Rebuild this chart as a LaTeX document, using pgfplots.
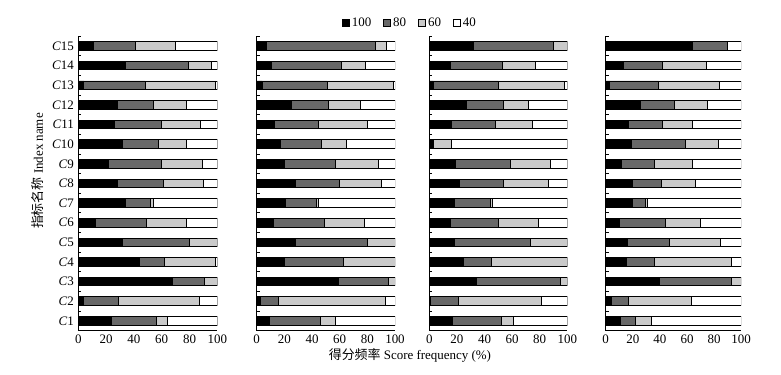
\documentclass[border=0pt]{standalone}
\usepackage{pgfplots}
\pgfplotsset{compat=1.18}
\usepackage{pgfplotstable}
\usepackage{fontspec}
\setmainfont{Liberation Serif}
\newfontfamily\cjk{Noto Sans CJK SC}
\definecolor{dgray}{HTML}{686868}
\definecolor{lgray}{HTML}{CACACA}

% columns: idx, s100, s80, s60, s40
\pgfplotstableread{
idx a b c d
1 24 32 8 36
2 4 25 58 13
3 68 23 9 0
4 44 18 37 1
5 32 48 20 0
6 12 37 29 22
7 34 18 2 46
8 28 33 29 10
9 22 38 29 11
10 32 26 20 22
11 26 34 28 12
12 28 26 24 22
13 4 44 51 1
14 34 45 17 4
15 11 30 29 30
}\tA
\pgfplotstableread{
idx a b c d
1 9 37 11 43
2 3 13 77 7
3 59 36 5 0
4 20 43 37 0
5 28 52 20 0
6 12 37 29 22
7 21 22 2 55
8 28 32 30 10
9 20 37 31 12
10 17 30 18 35
11 13 32 35 20
12 25 27 23 25
13 4 47 48 1
14 11 50 18 21
15 7 79 8 6
}\tB
\pgfplotstableread{
idx a b c d
1 17 35 9 39
2 1 20 60 19
3 34 61 5 0
4 25 20 55 0
5 18 55 27 0
6 15 35 29 21
7 18 26 2 54
8 22 32 32 14
9 19 40 29 12
10 2 1 13 84
11 16 32 27 25
12 27 27 18 28
13 3 47 48 2
14 15 38 24 23
15 32 58 10 0
}\tC
\pgfplotstableread{
idx a b c d
1 11 11 12 66
2 4 13 46 37
3 40 53 7 0
4 15 21 57 7
5 16 31 38 15
6 10 34 26 30
7 20 9 2 69
8 20 21 25 34
9 12 24 28 36
10 19 40 24 17
11 17 25 22 36
12 26 25 24 25
13 3 36 45 16
14 13 29 32 26
15 64 26 0 10
}\tD

\pgfplotsset{
  panel/.style={
    xbar stacked,
    scale only axis,
    height=294.5bp,
    xmin=0, xmax=100, ymin=0.5, ymax=15.5,
    xtick={0,20,...,100},
    ytick={1,...,15},
    minor ytick={1.5,2.5,...,15.5},
    axis x line*=bottom, axis y line*=left,
    axis line style={line width=1.1bp, black},
    major x tick style={draw=none},
    major y tick style={draw=none},
    minor y tick style={line width=0.9bp, black},
    minor tick length=3bp,
    bar width=8.6bp,
    /pgf/number format/assume math mode=true,
    every axis plot/.append style={draw=black, line width=0.95bp},
    anchor=south west,
  },
  sq/.style={legend image code/.code={\draw[##1, line width=0.9bp] (0bp,-3.2bp) rectangle (7bp,3.8bp);}},
}

\begin{document}
\fontsize{13}{15}\selectfont
\begin{tikzpicture}
\path[use as bounding box] (0,0) rectangle (781bp,375bp);

\begin{axis}[panel, at={(78.3bp,44.3bp)}, width=139bp,
  yticklabels={\textit{C}1,\textit{C}2,\textit{C}3,\textit{C}4,\textit{C}5,\textit{C}6,\textit{C}7,\textit{C}8,\textit{C}9,\textit{C}10,\textit{C}11,\textit{C}12,\textit{C}13,\textit{C}14,\textit{C}15},
  ylabel={{\cjk 指标名称} Index name},
  ylabel style={at={(axis description cs:-0.29,0.542)}, anchor=center, rotate=0},
  legend style={draw=none, fill=none, legend columns=4, anchor=center,
    at={(axis description cs:2.386,1.045)},
    /tikz/every even column/.append style={column sep=10bp}},
]
\addplot[fill=black, sq] table[x=a, y=idx] {\tA};
\addplot[fill=dgray, sq] table[x=b, y=idx] {\tA};
\addplot[fill=lgray, sq] table[x=c, y=idx] {\tA};
\addplot[fill=white, sq] table[x=d, y=idx] {\tA};
\legend{100,80,60,40}
\end{axis}

\begin{axis}[panel, at={(256.7bp,44.3bp)}, width=138.3bp, yticklabels={},
  xlabel={{\cjk 得分频率} Score frequency (\%)},
  xlabel style={at={(axis description cs:1.108,-0.083)}, anchor=center},
]
\addplot[fill=black] table[x=a, y=idx] {\tB};
\addplot[fill=dgray] table[x=b, y=idx] {\tB};
\addplot[fill=lgray] table[x=c, y=idx] {\tB};
\addplot[fill=white] table[x=d, y=idx] {\tB};
\end{axis}

\begin{axis}[panel, at={(429.3bp,44.3bp)}, width=138bp, yticklabels={}]
\addplot[fill=black] table[x=a, y=idx] {\tC};
\addplot[fill=dgray] table[x=b, y=idx] {\tC};
\addplot[fill=lgray] table[x=c, y=idx] {\tC};
\addplot[fill=white] table[x=d, y=idx] {\tC};
\end{axis}

\begin{axis}[panel, at={(605.7bp,44.3bp)}, width=135.5bp, yticklabels={}]
\addplot[fill=black] table[x=a, y=idx] {\tD};
\addplot[fill=dgray] table[x=b, y=idx] {\tD};
\addplot[fill=lgray] table[x=c, y=idx] {\tD};
\addplot[fill=white] table[x=d, y=idx] {\tD};
\end{axis}
\end{tikzpicture}
\end{document}
